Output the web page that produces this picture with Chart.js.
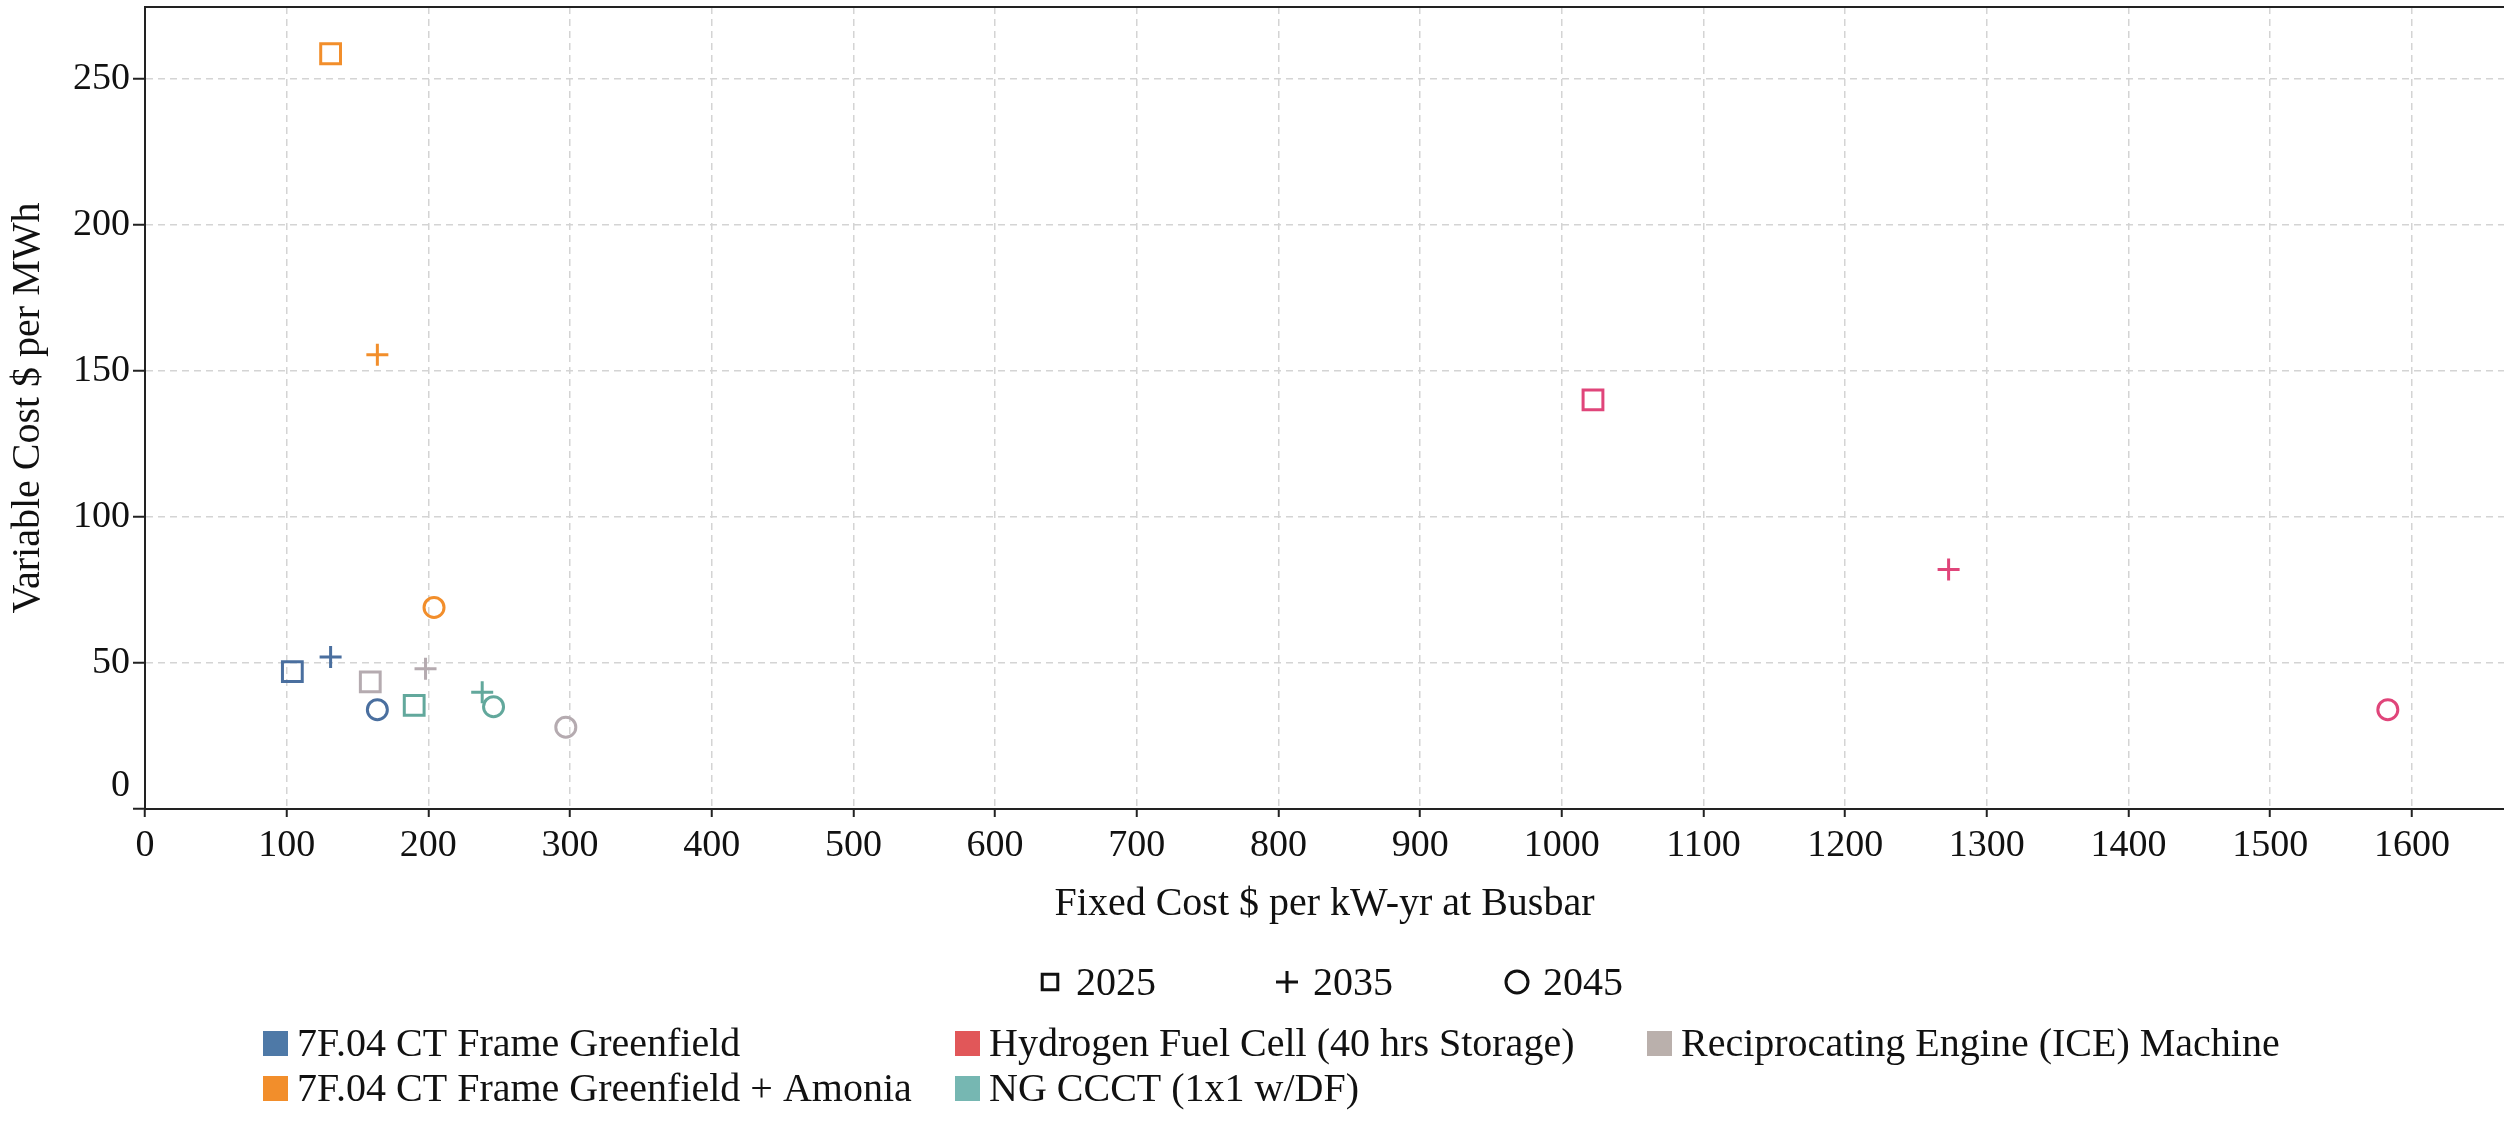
<!DOCTYPE html>
<html>
<head>
<meta charset="utf-8">
<script src="https://cdn.jsdelivr.net/npm/chart.js@4.4.1/dist/chart.umd.min.js"></script>
<style>
  html, body { margin: 0; padding: 0; background: #fff; }
  #wrap { width: 2504px; height: 1132px; }
</style>
</head>
<body>
<div id="wrap"><canvas id="custos" width="2504" height="1132"></canvas></div>
<script>
// tecnologias e cores (legenda de baixo)
const technologies = [
  '7F.04 CT Frame Greenfield',
  '7F.04 CT Frame Greenfield + Amonia',
  'Hydrogen Fuel Cell (40 hrs Storage)',
  'NG CCCT (1x1 w/DF)',
  'Reciprocating Engine (ICE) Machine'
];
const techColors = ['#4e79a7', '#f28e2b', '#e15759', '#76b7b2', '#bab0ac'];
const markerColors = ['#4a6f9f', '#f28e2b', '#e0457a', '#62a89c', '#b5abb0'];

const years = ['2025', '2035', '2045'];
const yearShapes = ['rect', 'cross', 'circle'];

// valores: custo fixo ($/kW-yr) e variável ($/MWh)
const ctFixed = [104, 131, 164];
const ctVariable = [47, 52, 34];
const amoniaFixed = [131, 164, 204];
const amoniaVariable = [258.5, 155.5, 69];
const hydrogenFixed = [1022, 1273, 1583];
const hydrogenVariable = [140, 82, 34];
const ccctFixed = [190, 238, 246];
const ccctVariable = [35.5, 40, 35];
const iceFixed = [159, 198, 297];
const iceVariable = [43.5, 48, 28];

const xTicks = [0, 100, 200, 300, 400, 500, 600, 700, 800, 900, 1000, 1100, 1200, 1300, 1400, 1500, 1600];
const yTicks = [0, 50, 100, 150, 200, 250];

const fixedSeries = [ctFixed, amoniaFixed, hydrogenFixed, ccctFixed, iceFixed];
const variableSeries = [ctVariable, amoniaVariable, hydrogenVariable, ccctVariable, iceVariable];

const FONT = '"Liberation Serif", "Times New Roman", serif';

// legendas desenhadas à mão (anos + tecnologias), moldura de cima e o "0" do eixo y
const legendas = {
  id: 'legendas',
  afterDraw(chart) {
    const { ctx, chartArea, scales } = chart;
    ctx.save();

    ctx.strokeStyle = '#222';
    ctx.lineWidth = 2;
    ctx.beginPath();
    ctx.moveTo(chartArea.left, chartArea.top);
    ctx.lineTo(chartArea.right, chartArea.top);
    ctx.stroke();

    ctx.fillStyle = '#111';
    ctx.font = `38px ${FONT}`;
    ctx.textAlign = 'right';
    ctx.textBaseline = 'middle';
    ctx.fillText(String(yTicks[0]), chartArea.left - 15, scales.y.getPixelForValue(yTicks[0]) - 23);

    // anos
    const yearX = [1050, 1287, 1517];
    ctx.textAlign = 'left';
    ctx.font = `40px ${FONT}`;
    years.forEach((ano, i) => {
      ctx.fillStyle = 'rgba(0,0,0,0)';
      ctx.strokeStyle = '#111';
      ctx.lineWidth = 3;
      Chart.helpers.drawPoint(ctx, { pointStyle: yearShapes[i], radius: 11, borderWidth: 3, rotation: 0 }, yearX[i], 982);
      ctx.fillStyle = '#111';
      ctx.fillText(ano, yearX[i] + 26, 984);
    });

    // tecnologias
    technologies.forEach((nome, i) => {
      const col = Math.floor(i / 2);
      const row = i % 2;
      const x = 263 + col * 692;
      const y = 1043 + row * 45;
      ctx.fillStyle = techColors[i];
      ctx.fillRect(x, y - 12, 25, 25);
      ctx.fillStyle = '#111';
      ctx.fillText(nome, x + 34, y + 2);
    });

    ctx.restore();
  }
};

const ctx = document.getElementById('custos').getContext('2d');

new Chart(ctx, {
  type: 'scatter',
  data: {
    datasets: technologies.map((nome, i) => ({
      label: nome,
      data: fixedSeries[i].map((fx, k) => ({ x: fx, y: variableSeries[i][k] })),
      pointStyle: yearShapes,
      pointRadius: [14, 11, 10],
      borderColor: markerColors[i],
      backgroundColor: 'rgba(255,255,255,0)',
      pointBorderWidth: 3
    }))
  },
  options: {
    responsive: false,
    animation: false,
    events: [],
    layout: { autoPadding: false, padding: { top: 7, right: 0, bottom: 200, left: 0 } },
    plugins: {
      legend: { display: false },
      tooltip: { enabled: false }
    },
    scales: {
      x: {
        type: 'linear',
        min: 0,
        max: 1665,
        afterBuildTicks: s => { s.ticks = xTicks.map(v => ({ value: v })); },
        afterFit: s => { s.height = 123; s.paddingRight = 0; s.paddingLeft = 0; },
        grid: { color: '#d4d4d4', lineWidth: 1.5, tickLength: 8, tickColor: '#222', tickWidth: 2, tickBorderDash: [] },
        border: { color: '#222', width: 2, dash: [7, 5] },
        ticks: {
          color: '#111', font: { family: FONT, size: 38 }, padding: 6, maxRotation: 0, autoSkip: false,
          callback: v => String(v)
        },
        title: { display: true, text: 'Fixed Cost $ per kW-yr at Busbar', color: '#111', font: { family: FONT, size: 40 }, padding: { top: 4, bottom: 4 } }
      },
      y: {
        type: 'linear',
        min: 0,
        max: 274.5,
        afterBuildTicks: s => { s.ticks = yTicks.map(v => ({ value: v })); },
        afterFit: s => { s.width = 145; s.paddingTop = 0; s.paddingBottom = 0; },
        grid: { color: '#d4d4d4', lineWidth: 1.5, tickLength: 12, tickColor: '#222', tickWidth: 2, tickBorderDash: [] },
        border: { color: '#222', width: 2, dash: [7, 5] },
        ticks: {
          color: '#111', font: { family: FONT, size: 38 }, padding: 3,
          callback: v => (v === 0 ? '' : String(v))
        },
        title: { display: true, text: 'Variable Cost $ per MWh', color: '#111', font: { family: FONT, size: 40 }, padding: { top: 4, bottom: 4 } }
      }
    }
  },
  plugins: [legendas]
});
</script>
</body>
</html>
